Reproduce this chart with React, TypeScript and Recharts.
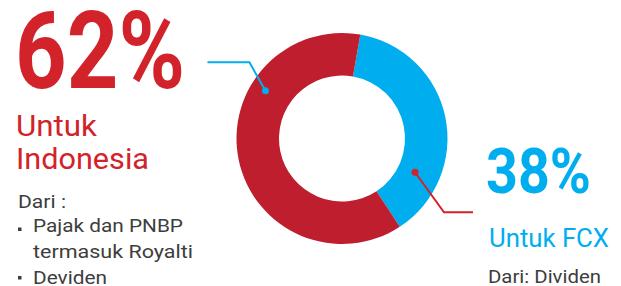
import { PieChart, Pie, Cell } from 'recharts';

const shares = ['Untuk FCX', 'Untuk Indonesia'];
const values = [38, 62];
const sliceColors = ['#00aeef', '#be1e2d'];

const data = shares.map((name, i) => ({ name, value: values[i], color: sliceColors[i] }));

const RED = '#d2232a';
const BLUE = '#00aeef';
const GRAY = '#3d3d3d';
const FONT = 'Roboto, "Noto Sans", sans-serif';

// leader lines: where the dot sits inside each slice and which way the line runs
const leaders = [
  { frac: 0.766, depth: 0.41, color: RED, elbow: [29, 40], end: [58, 40] },
  { frac: 0.695, depth: 0.64, color: BLUE, elbow: [-16, -28.5], end: [-58, -28.5] },
];

const RAD = Math.PI / 180;

function renderLeader(props: any) {
  const { cx, cy, innerRadius, outerRadius, startAngle, endAngle, index } = props;
  const cfg = leaders[index];
  const angle = startAngle + (endAngle - startAngle) * cfg.frac;
  const r = innerRadius + (outerRadius - innerRadius) * cfg.depth;
  const x = cx + r * Math.cos(-angle * RAD);
  const y = cy + r * Math.sin(-angle * RAD);
  return (
    <g key={`leader-${index}`}>
      <polyline
        points={`${x},${y} ${x + cfg.elbow[0]},${y + cfg.elbow[1]} ${x + cfg.end[0]},${y + cfg.end[1]}`}
        fill="none"
        stroke={cfg.color}
        strokeWidth={2}
      />
      <circle cx={x} cy={y} r={3.5} fill={cfg.color} />
    </g>
  );
}

export default function App() {
  return (
    <div style={{ position: 'absolute', left: 0, top: 0, width: 621, height: 286, background: '#fff' }}>
      <PieChart width={621} height={286} margin={{ top: 0, right: 0, bottom: 0, left: 0 }}>
        <Pie
          data={data}
          dataKey="value"
          cx={342}
          cy={138.5}
          innerRadius={63}
          outerRadius={105.5}
          startAngle={80}
          endAngle={-280}
          stroke="none"
          labelLine={false}
          label={renderLeader}
          isAnimationActive={false}
        >
          {data.map((entry, index) => (
            <Cell key={`cell-${index}`} fill={entry.color} />
          ))}
        </Pie>
      </PieChart>

      <svg width={621} height={286} style={{ position: 'absolute', left: 0, top: 0, pointerEvents: 'none' }}>
        <g fontFamily={FONT} fontWeight={400}>
          <text x={15} y={88} fontSize={107} fontWeight={700} fill={RED} textLength={170} lengthAdjust="spacingAndGlyphs">
            62%
          </text>
          <text x={16} y={136} fontSize={29} fill={RED} textLength={81} lengthAdjust="spacingAndGlyphs">
            Untuk
          </text>
          <text x={16} y={169} fontSize={29} fill={RED} textLength={133} lengthAdjust="spacingAndGlyphs">
            Indonesia
          </text>
          <text x={18} y={208} fontSize={18.5} fill={GRAY} textLength={48} lengthAdjust="spacingAndGlyphs">
            Dari :
          </text>
          <rect x={18} y={227.5} width={3.5} height={3.5} fill={GRAY} />
          <text x={33} y={232} fontSize={18.5} fill={GRAY} textLength={150} lengthAdjust="spacingAndGlyphs">
            Pajak dan PNBP
          </text>
          <text x={33} y={258} fontSize={18.5} fill={GRAY} textLength={160} lengthAdjust="spacingAndGlyphs">
            termasuk Royalti
          </text>
          <rect x={18} y={276} width={3.5} height={3.5} fill={GRAY} />
          <text x={33} y={284} fontSize={18.5} fill={GRAY} textLength={74} lengthAdjust="spacingAndGlyphs">
            Deviden
          </text>

          <text x={486} y={193} fontSize={63} fontWeight={700} fill={BLUE} textLength={105} lengthAdjust="spacingAndGlyphs">
            38%
          </text>
          <text x={489} y={247} fontSize={25} fill={BLUE} textLength={120} lengthAdjust="spacingAndGlyphs">
            Untuk FCX
          </text>
          <text x={488} y={283} fontSize={18.5} fill={GRAY} textLength={113} lengthAdjust="spacingAndGlyphs">
            Dari: Dividen
          </text>
        </g>
      </svg>
    </div>
  );
}
